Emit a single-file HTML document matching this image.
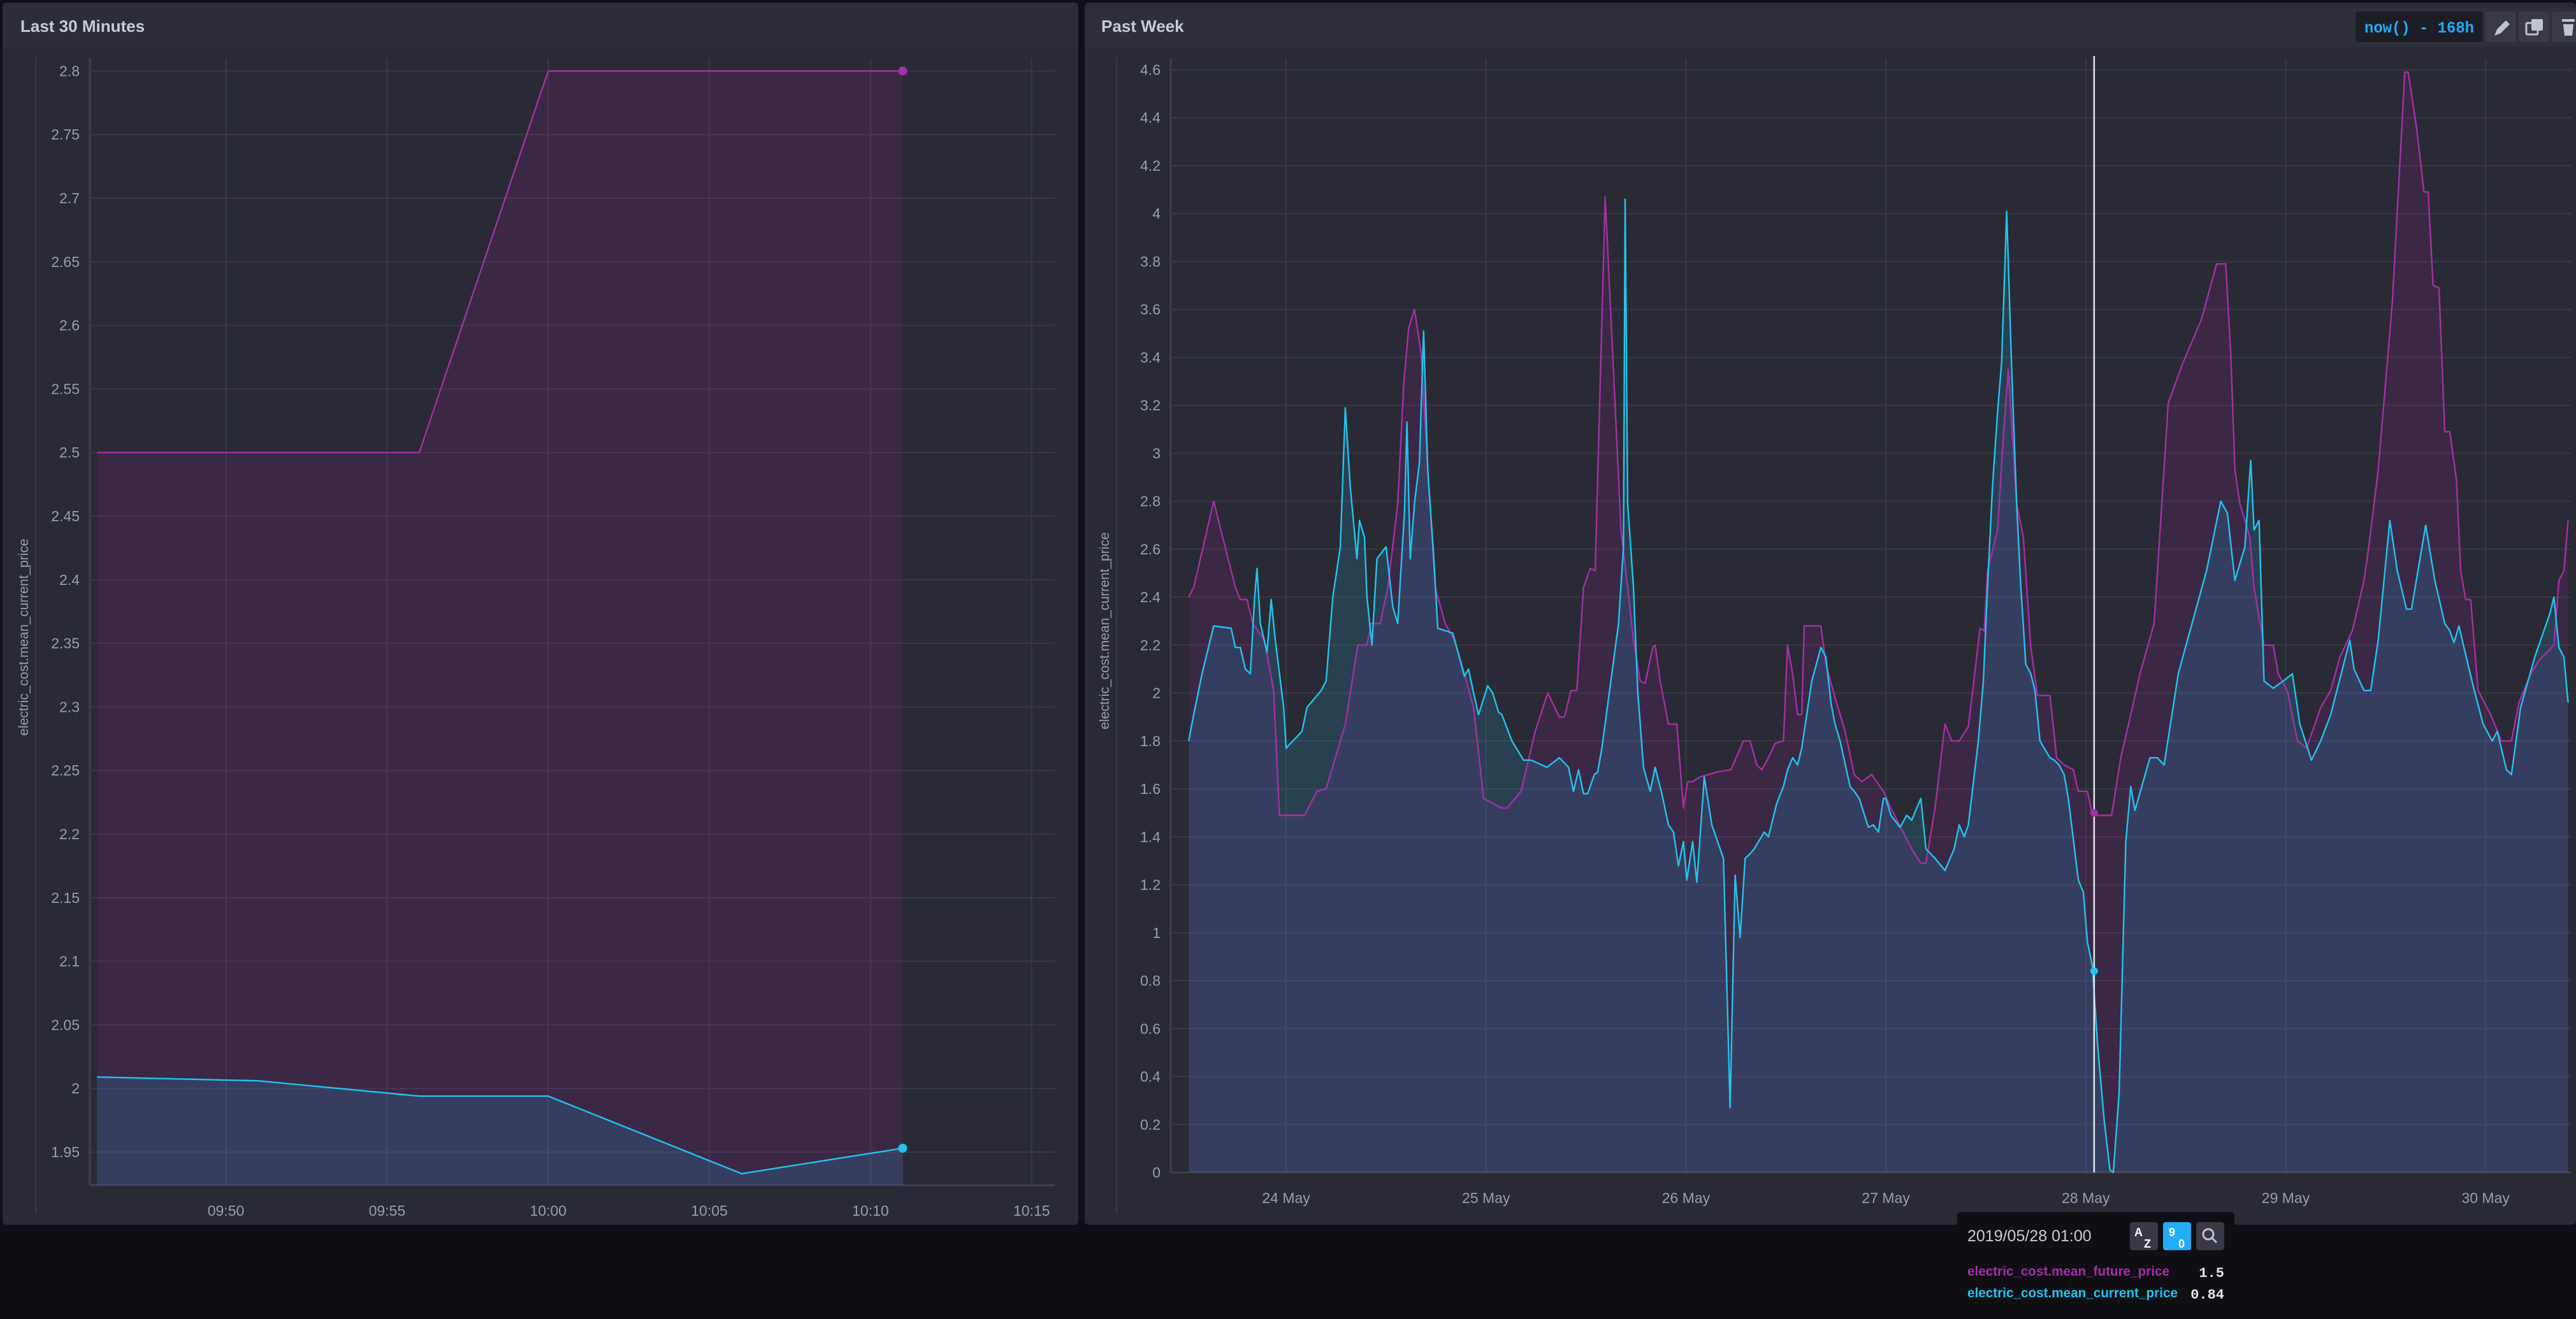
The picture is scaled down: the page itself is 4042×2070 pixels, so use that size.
<!DOCTYPE html>
<html><head><meta charset="utf-8"><style>
html,body{margin:0;padding:0;background:#0f0f15;width:4042px;height:2070px;overflow:hidden}
svg{display:block}
text{font-family:"Liberation Sans",sans-serif}
text.mono{font-family:"Liberation Mono",monospace}
</style></head><body>
<svg id="root" width="4042" height="2070" viewBox="0 0 4042 2070" xmlns="http://www.w3.org/2000/svg">
<rect x="0" y="0" width="4042" height="2070" fill="#0f0f15"/>
<g>
<rect x="4" y="4" width="1688" height="1918" rx="6" fill="#292a33"/>
<rect x="4" y="4" width="1688" height="72" rx="6" fill="#2c2d37"/>
<text x="32" y="50" font-size="26" font-weight="bold" fill="#c8cad4">Last 30 Minutes</text>
<line x1="56" y1="90" x2="56" y2="1905" stroke="#383944" stroke-width="2"/>
<text transform="translate(44,1000) rotate(-90)" text-anchor="middle" font-size="21" fill="#9a9dab">electric_cost.mean_current_price</text>
<g id="leftChart"></g>
</g>
<g>
<rect x="1702" y="4" width="2340" height="1918" rx="6" fill="#292a33"/>
<rect x="1702" y="12" width="2340" height="62" fill="#2e2f39"/>
<text x="1728" y="50" font-size="26" font-weight="bold" fill="#c8cad4">Past Week</text>
<rect x="3696" y="18" width="200" height="48" rx="5" fill="#1d1e25"/>
<text class="mono" x="3710" y="51" font-size="25" font-weight="bold" fill="#22adf6" textLength="172" lengthAdjust="spacingAndGlyphs">now() - 168h</text>
<rect x="3900" y="18" width="48" height="48" rx="5" fill="#393a44"/>
<path d="M3914 56 l4 -10 l14 -14 l6 6 l-14 14 z" fill="#c2c4cc"/>
<rect x="3952" y="18" width="48" height="48" rx="5" fill="#393a44"/>
<rect x="3964" y="36" width="18" height="18" rx="2" fill="none" stroke="#c2c4cc" stroke-width="3"/>
<rect x="3972" y="30" width="18" height="18" rx="2" fill="#c2c4cc"/>
<rect x="4004" y="18" width="48" height="48" rx="5" fill="#393a44"/>
<path d="M4020 34 h20 v-4 h-20 z M4022 38 h16 l-2 18 h-12 z" fill="#c2c4cc"/>
<line x1="1752" y1="90" x2="1752" y2="1905" stroke="#383944" stroke-width="2"/>
<text transform="translate(1740,990) rotate(-90)" text-anchor="middle" font-size="21" fill="#9a9dab">electric_cost.mean_current_price</text>
<g id="rightChart"></g>
</g>
<g>
<rect x="3071" y="1902" width="435" height="160" rx="6" fill="#0f0f14"/>
<text x="3087" y="1948" font-size="25" fill="#c8cad4">2019/05/28 01:00</text>
<rect x="3342" y="1918" width="44" height="44" rx="4" fill="#383944"/>
<text x="3349" y="1940" font-size="18" font-weight="bold" fill="#fff">A</text>
<text x="3364" y="1958" font-size="18" font-weight="bold" fill="#fff">Z</text>
<rect x="3394" y="1918" width="44" height="44" rx="4" fill="#22adf6"/>
<text x="3403" y="1940" font-size="18" font-weight="bold" fill="#fff">9</text>
<text x="3418" y="1958" font-size="18" font-weight="bold" fill="#fff">0</text>
<rect x="3446" y="1918" width="44" height="44" rx="4" fill="#383944"/>
<circle cx="3465" cy="1937" r="8" fill="none" stroke="#c2c4cc" stroke-width="3"/>
<line x1="3471" y1="1943" x2="3478" y2="1950" stroke="#c2c4cc" stroke-width="3"/>
<text x="3087" y="2002" font-size="21" font-weight="bold" fill="#a52fa6" textLength="317" lengthAdjust="spacingAndGlyphs">electric_cost.mean_future_price</text>
<text class="mono" x="3490" y="2004" text-anchor="end" font-size="22" font-weight="bold" fill="#e4e5ea">1.5</text>
<text x="3087" y="2036" font-size="21" font-weight="bold" fill="#22c3f0" textLength="330" lengthAdjust="spacingAndGlyphs">electric_cost.mean_current_price</text>
<text class="mono" x="3490" y="2038" text-anchor="end" font-size="22" font-weight="bold" fill="#e4e5ea">0.84</text>
</g>
</svg>
<script>
// ---- Left chart data (minutes relative to 09:50) ----
const leftTickMinutes = [0,5,10,15,20,25];
const leftTickLabels = ["09:50","09:55","10:00","10:05","10:10","10:15"];
const leftYTicks = [1.95,2,2.05,2.1,2.15,2.2,2.25,2.3,2.35,2.4,2.45,2.5,2.55,2.6,2.65,2.7,2.75,2.8];
const leftFutureT = [-4,6,10,21];
const leftFutureV = [2.5,2.5,2.8,2.8];
const leftCurrentT = [-4,1,6,10,16,21];
const leftCurrentV = [2.009,2.006,1.994,1.994,1.933,1.953];

// ---- Right chart data (hours relative to 24 May 00:00) ----
const rightTickHours = [0,24,48,72,96,120,144];
const rightTickLabels = ["24 May","25 May","26 May","27 May","28 May","29 May","30 May"];
const rightYTicks = [0,0.2,0.4,0.6,0.8,1,1.2,1.4,1.6,1.8,2,2.2,2.4,2.6,2.8,3,3.2,3.4,3.6,3.8,4,4.2,4.4,4.6];
const futureT = [-11.7,-11.1,-8.7,-6.1,-5.5,-4.7,-4.0,-2.6,-1.5,-0.8,2.2,3.7,4.8,7.1,8.6,9.7,10.2,11.3,12.2,13.4,14.1,14.7,15.4,16.2,17.0,17.9,19.1,20.2,21.4,22.5,23.7,24.8,25.9,26.5,28.2,29.9,31.4,32.8,33.4,34.2,34.9,35.7,36.5,37.1,38.3,39.1,40.2,41.0,41.7,42.5,43.1,44.0,44.3,44.9,45.9,46.9,47.7,48.2,48.8,49.7,51.7,53.4,54.9,55.7,56.5,57.1,57.9,58.7,59.7,60.2,60.8,61.4,61.9,62.2,64.2,64.8,65.9,66.5,67.1,68.2,69.1,70.3,71.7,72.6,75.1,76.2,76.8,77.9,79.1,79.9,80.8,81.9,82.9,83.3,83.8,84.2,85.4,86.1,86.7,87.7,88.5,89.4,90.2,91.7,92.5,93.4,94.5,95.1,96.2,96.8,99.1,100.2,101.4,102.5,104.2,105.9,107.7,109.9,111.7,112.8,113.4,113.9,114.5,115.7,116.2,117.4,118.5,119.1,120.2,121.4,122.5,124.2,125.4,126.5,128.0,129.4,129.9,131.1,132.8,134.3,134.7,135.7,136.6,137.1,137.7,138.4,139.1,139.7,140.5,141.0,141.6,142.2,143.1,144.6,145.9,147.1,148.0,149.4,150.5,152.2,152.8,153.4,153.9];
const futureV = [2.40,2.44,2.80,2.44,2.39,2.39,2.29,2.22,2.01,1.49,1.49,1.59,1.60,1.87,2.20,2.20,2.29,2.29,2.44,2.79,3.28,3.52,3.60,3.42,2.93,2.44,2.29,2.22,2.08,1.94,1.56,1.54,1.52,1.52,1.59,1.84,2.00,1.90,1.90,2.01,2.01,2.44,2.52,2.51,4.07,3.49,2.68,2.44,2.22,2.05,2.04,2.19,2.20,2.05,1.87,1.87,1.52,1.63,1.63,1.65,1.67,1.68,1.80,1.80,1.70,1.68,1.73,1.79,1.80,2.20,2.08,1.91,1.91,2.28,2.28,2.12,1.98,1.91,1.84,1.66,1.63,1.66,1.59,1.52,1.35,1.29,1.29,1.52,1.87,1.80,1.80,1.86,2.15,2.27,2.26,2.51,2.68,3.07,3.35,2.79,2.65,2.19,1.99,1.99,1.73,1.70,1.68,1.59,1.59,1.49,1.49,1.73,1.91,2.08,2.29,3.21,3.38,3.56,3.79,3.79,3.42,2.93,2.79,2.65,2.44,2.20,2.20,2.08,2.01,1.80,1.77,1.94,2.01,2.15,2.26,2.47,2.59,2.93,3.63,4.59,4.59,4.36,4.09,4.09,3.70,3.69,3.09,3.09,2.89,2.51,2.39,2.39,2.01,1.91,1.80,1.80,1.96,2.08,2.14,2.20,2.47,2.51,2.72];
const currentT = [-11.7,-11.1,-10.1,-8.7,-6.6,-6.1,-5.5,-4.9,-4.3,-3.8,-3.5,-3.1,-2.3,-1.8,-1.3,-0.3,0.0,1.9,2.5,4.2,4.8,5.6,6.5,7.1,7.7,8.5,8.8,9.4,9.7,10.3,10.9,12.0,12.8,13.4,13.7,14.2,14.5,14.9,15.4,16.0,16.5,17.0,17.7,18.2,20.0,20.8,21.4,21.9,22.5,23.1,24.2,24.8,25.5,25.9,27.1,28.5,29.4,31.3,32.8,33.9,34.5,35.1,35.7,36.2,37.0,37.4,37.9,39.1,39.9,40.5,40.7,41.0,41.7,42.2,42.9,43.7,44.3,45.1,45.9,46.5,47.1,47.7,48.1,48.8,49.3,50.2,51.1,52.5,53.3,53.9,54.5,55.1,55.7,56.2,57.4,57.9,58.9,59.7,60.2,60.8,61.4,61.9,63.1,64.2,64.8,65.4,65.9,66.5,67.7,68.2,68.8,69.9,70.5,71.1,71.7,72.0,72.6,73.7,74.5,75.1,75.7,76.2,76.8,77.9,79.1,80.2,80.8,81.4,81.9,83.1,83.7,84.2,84.8,85.4,85.9,86.5,87.1,87.7,88.2,88.8,89.4,89.9,90.5,91.7,92.2,92.8,93.4,93.9,95.1,95.7,96.2,96.8,97.4,98.2,98.9,99.3,100.0,100.8,101.4,101.9,103.7,104.6,105.4,107.1,108.2,110.5,112.2,113.0,113.9,114.5,115.1,115.8,116.2,116.8,117.4,118.5,119.7,120.8,121.7,123.1,124.2,125.4,127.7,128.2,129.4,130.2,131.1,132.5,133.4,134.5,135.1,136.8,137.9,139.1,139.7,140.2,140.8,141.4,142.5,143.7,144.8,145.4,146.5,147.1,148.2,149.9,151.7,152.2,152.8,153.4,153.9];
const currentV = [1.80,1.91,2.08,2.28,2.27,2.19,2.19,2.10,2.08,2.39,2.52,2.29,2.17,2.39,2.22,1.94,1.77,1.84,1.94,2.01,2.05,2.40,2.61,3.19,2.86,2.56,2.72,2.65,2.40,2.20,2.56,2.61,2.36,2.29,2.47,2.75,3.13,2.56,2.79,2.96,3.51,2.93,2.58,2.27,2.25,2.15,2.07,2.10,2.00,1.91,2.03,2.00,1.92,1.91,1.80,1.72,1.72,1.69,1.73,1.69,1.59,1.68,1.58,1.58,1.66,1.67,1.77,2.08,2.29,2.61,4.06,2.79,2.44,2.01,1.69,1.59,1.69,1.58,1.45,1.42,1.28,1.38,1.22,1.38,1.21,1.65,1.45,1.31,0.27,1.24,0.98,1.31,1.33,1.35,1.42,1.40,1.54,1.61,1.68,1.73,1.70,1.77,2.05,2.19,2.15,1.96,1.87,1.80,1.61,1.59,1.56,1.44,1.45,1.42,1.56,1.56,1.49,1.44,1.49,1.47,1.52,1.56,1.35,1.31,1.26,1.35,1.45,1.40,1.45,1.80,2.05,2.44,2.86,3.17,3.38,4.01,3.35,2.79,2.44,2.12,2.08,2.01,1.80,1.73,1.72,1.70,1.66,1.56,1.22,1.17,0.96,0.86,0.54,0.22,0.01,0.00,0.33,1.38,1.61,1.51,1.73,1.73,1.70,2.08,2.22,2.51,2.80,2.75,2.47,2.54,2.61,2.97,2.68,2.72,2.05,2.02,2.05,2.08,1.87,1.72,1.80,1.91,2.22,2.10,2.01,2.01,2.22,2.72,2.51,2.35,2.35,2.70,2.47,2.29,2.26,2.21,2.28,2.19,2.03,1.87,1.80,1.84,1.68,1.66,1.94,2.15,2.33,2.40,2.19,2.15,1.96];
const hoverHour = 97;
const hoverFuture = 1.5;
const hoverCurrent = 0.84;

const NS = "http://www.w3.org/2000/svg";
function mk(parent, tag, attrs) {
  const el = document.createElementNS(NS, tag);
  for (const k in attrs) el.setAttribute(k, attrs[k]);
  parent.appendChild(el);
  return el;
}
function pathFrom(ts, vs, xs, ys) {
  return ts.map((t, i) => (i ? "L" : "M") + xs(t).toFixed(1) + " " + ys(vs[i]).toFixed(1)).join(" ");
}
function fmt(v) { return String(parseFloat(v.toFixed(2))); }

const FUT = "#a52fa6", CUR = "#22c3f0";
const FUTFILL = "rgba(160,34,171,0.15)", CURFILL = "rgba(40,180,235,0.16)";

function drawChart(g, cfg) {
  const xs = cfg.xs, ys = cfg.ys;
  cfg.yTicks.forEach(v => {
    const y = ys(v);
    const gl = mk(g, "line", {x1: cfg.left, x2: cfg.right, y1: y, y2: y, stroke: "#383944", "stroke-width": 2});
    
    
    const tl = mk(g, "text", {x: cfg.left - 16, y: y + 8, "text-anchor": "end", "font-size": 23, fill: "#9a9dab"});
    tl.textContent = fmt(v);
    
    
  });
  cfg.xTicks.forEach((t, i) => {
    const x = xs(t);
    const gl = mk(g, "line", {x1: x, x2: x, y1: cfg.top, y2: cfg.bottom, stroke: "#383944", "stroke-width": 2});
    
    
    const tl = mk(g, "text", {x: x, y: cfg.bottom + 48, "text-anchor": "middle", "font-size": 23, fill: "#9a9dab"});
    tl.textContent = cfg.xLabels[i];
    
    
  });
  const ax = mk(g, "line", {x1: cfg.left, x2: cfg.left, y1: cfg.top, y2: cfg.bottom, stroke: "#3f404b", "stroke-width": 3});
  
  
  const axb = mk(g, "line", {x1: cfg.left, x2: cfg.right, y1: cfg.bottom, y2: cfg.bottom, stroke: "#3f404b", "stroke-width": 3});
  
  

  const series = [
    {t: cfg.fT, v: cfg.fV, c: FUT, f: FUTFILL, n: 'future-price'},
    {t: cfg.cT, v: cfg.cV, c: CUR, f: CURFILL, n: 'current-price'}
  ];
  series.forEach(s => {
    const line = pathFrom(s.t, s.v, xs, ys);
    const area = line + " L" + xs(s.t[s.t.length - 1]).toFixed(1) + " " + cfg.base + " L" + xs(s.t[0]).toFixed(1) + " " + cfg.base + " Z";
    const a = mk(g, "path", {d: area, fill: s.f});
    
    
  });
  series.forEach(s => {
    const l = mk(g, "path", {d: pathFrom(s.t, s.v, xs, ys), fill: "none", stroke: s.c, "stroke-width": 2.4, "stroke-linejoin": "round"});
    
    
  });
}

// Left chart
(function(){
  const g = document.getElementById("leftChart");
  const x0 = 354.5, pm = 50.57;
  const y0 = 1808, pu = 99.8 / 0.05;
  const xs = t => x0 + t * pm;
  const ys = v => y0 - (v - 1.95) * pu;
  drawChart(g, {xs, ys, left: 141, right: 1655, top: 92, bottom: 1860, base: 1860,
    yTicks: leftYTicks, xTicks: leftTickMinutes, xLabels: leftTickLabels,
    fT: leftFutureT, fV: leftFutureV, cT: leftCurrentT, cV: leftCurrentV});
  const lf = leftFutureT.length - 1, lc = leftCurrentT.length - 1;
  const d1 = mk(g, "circle", {cx: xs(leftFutureT[lf]), cy: ys(leftFutureV[lf]), r: 7, fill: FUT});
  
  
  const d2 = mk(g, "circle", {cx: xs(leftCurrentT[lc]), cy: ys(leftCurrentV[lc]), r: 7, fill: CUR});
  
  
})();

// Right chart
(function(){
  const g = document.getElementById("rightChart");
  const x0 = 2018.1, ph = 13.07;
  const y0 = 1840, pu = 376.2;
  const xs = t => x0 + t * ph;
  const ys = v => y0 - v * pu;
  drawChart(g, {xs, ys, left: 1837, right: 4035, top: 92, bottom: 1840, base: 1840,
    yTicks: rightYTicks, xTicks: rightTickHours, xLabels: rightTickLabels,
    fT: futureT, fV: futureV, cT: currentT, cV: currentV});
  const hx = xs(hoverHour);
  const hl = mk(g, "line", {x1: hx, x2: hx, y1: 88, y2: 1840, stroke: "#e8e8ee", "stroke-width": 2.5});
  
  
  const h1 = mk(g, "circle", {cx: hx, cy: ys(hoverFuture), r: 6, fill: FUT});
  
  
  const h2 = mk(g, "circle", {cx: hx, cy: ys(hoverCurrent), r: 6, fill: CUR});
  
  
})();
</script>
</body></html>
